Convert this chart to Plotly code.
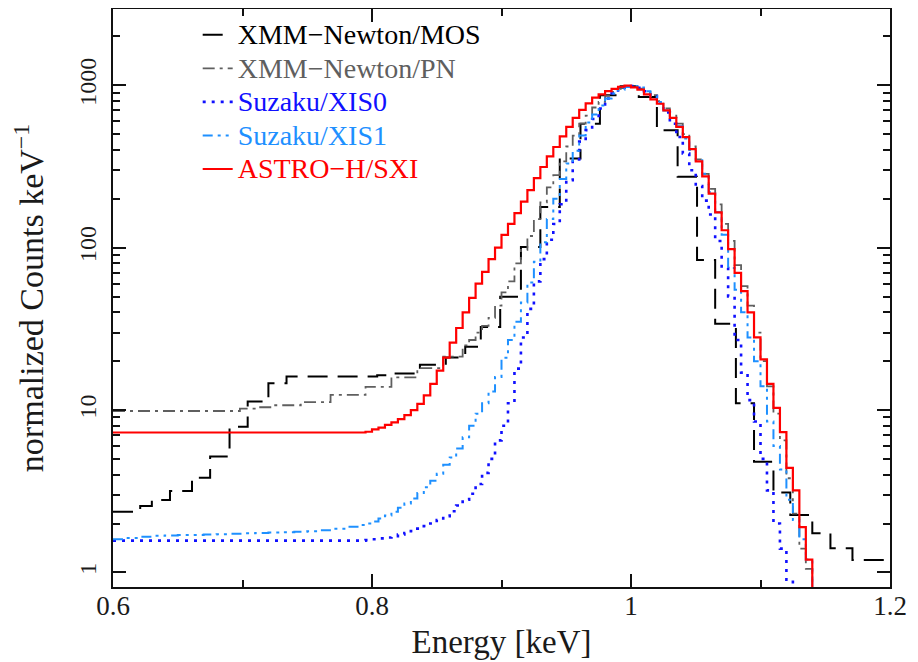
import plotly.graph_objects as go

# ---------------- data ----------------
# Shared fine bin grid (left edges, keV) used from 0.795 keV upward
E_FINE = [0.795, 0.800, 0.805, 0.810, 0.815, 0.820, 0.825, 0.830, 0.835, 0.840,
          0.845, 0.850, 0.855, 0.860, 0.865, 0.870, 0.875, 0.880, 0.885, 0.890,
          0.895, 0.900, 0.905, 0.910, 0.915, 0.920, 0.925, 0.930, 0.935, 0.940,
          0.945, 0.950, 0.955, 0.960, 0.965, 0.970, 0.975, 0.980, 0.985, 0.990,
          0.995, 1.000, 1.005, 1.010, 1.015, 1.020, 1.025, 1.030, 1.035, 1.040,
          1.045, 1.050, 1.055, 1.060, 1.065, 1.070, 1.075, 1.080, 1.085, 1.090,
          1.095, 1.100, 1.105, 1.110, 1.115, 1.120, 1.125, 1.130, 1.135, 1.140]
E_FINE_END = 1.145

# XMM-Newton/MOS : variable-width bins (edges) and counts
mos_edges = [0.600, 0.621, 0.630, 0.644, 0.661, 0.675, 0.690, 0.704, 0.720, 0.734,
             0.804, 0.816, 0.837, 0.857, 0.872, 0.884, 0.899, 0.915, 0.930, 0.945,
             0.961, 0.976, 0.992, 1.006, 1.020, 1.036, 1.051, 1.065, 1.081, 1.095,
             1.110, 1.123, 1.140, 1.154, 1.171, 1.200]
mos_counts = [2.36, 2.56, 2.79, 3.17, 3.83, 5.17, 7.88, 11.3, 14.6, 16.1,
              16.4, 16.8, 19.0, 21.1, 24.5, 32.5, 49.8, 101, 178, 354,
              580, 867, 985, 848, 528, 273, 84, 34, 11, 4.8,
              3.1, 2.26, 1.74, 1.41, 1.19]

# XMM-Newton/PN : coarse low-energy bins, then the fine grid
pn_low_edges = [0.600, 0.698, 0.711, 0.724, 0.745, 0.768]
pn_low_counts = [9.86, 10.2, 10.4, 10.7, 11.2, 12.4]
pn_counts = [13.9, 13.9, 13.9, 13.9, 15.9, 15.9, 15.9, 15.9, 18.1, 18.1,
             18.1, 18.1, 21.3, 21.3, 21.3, 25, 27, 30, 33, 37,
             44, 53, 62, 80, 97, 118, 150, 190, 235, 280,
             340, 420, 490, 580, 650, 730, 790, 860, 910, 960,
             990, 985, 955, 910, 870, 800, 720, 650, 580, 500,
             420, 350, 285, 230, 185, 140, 110, 78, 58, 44,
             30, 20, 14, 9.5, 6.5, 3.8, 2.3, 1.4, 1.05, 0.7]

# Suzaku/XIS0 : flat low-energy level, then the fine grid
xis0_low_edges = [0.600]
xis0_low_counts = [1.57]
xis0_counts = [1.58, 1.60, 1.62, 1.64, 1.67, 1.71, 1.75, 1.80, 1.86, 1.93,
               2.00, 2.10, 2.22, 2.38, 2.58, 2.80, 3.05, 3.5, 4.1, 5.0,
               6.5, 8.0, 11, 18, 28, 42, 62, 85, 112, 140,
               185, 260, 350, 450, 530, 620, 720, 830, 890, 940,
               975, 990, 965, 920, 860, 780, 680, 580, 480, 380,
               300, 240, 195, 160, 110, 75, 50, 27, 17, 11.5,
               8.5, 5.0, 3.2, 2.0, 1.4, 0.9, 0.7, 0.6, 0.5, 0.5]

# Suzaku/XIS1 : 0.01 keV bins at low energy, then the fine grid
xis1_low_edges = [0.60, 0.61, 0.62, 0.63, 0.64, 0.65, 0.66, 0.67, 0.68, 0.69,
                  0.70, 0.71, 0.72, 0.73, 0.74, 0.75, 0.76, 0.77, 0.78, 0.79]
xis1_low_counts = [1.60, 1.63, 1.66, 1.68, 1.69, 1.70, 1.70, 1.71, 1.72, 1.73,
                   1.74, 1.75, 1.76, 1.77, 1.78, 1.79, 1.82, 1.86, 1.91, 1.96]
xis1_counts = [2.0, 2.06, 2.15, 2.24, 2.36, 2.50, 2.66, 2.85, 3.08, 3.35,
               3.67, 4.05, 4.6, 5.1, 5.8, 6.8, 8.0, 9.5, 11, 13,
               16, 21, 27, 35, 46, 61, 82, 108, 150, 200,
               265, 330, 395, 490, 590, 660, 750, 830, 890, 940,
               975, 990, 970, 920, 860, 790, 700, 630, 560, 470,
               400, 345, 285, 220, 165, 120, 75, 55, 40, 28,
               20, 14, 8.5, 6.0, 4.3, 2.8, 2.1, 1.6, 1.2, 0.7]

# ASTRO-H/SXI : flat low-energy level, then the fine grid
sxi_low_edges = [0.600]
sxi_low_counts = [7.27]
sxi_counts = [7.35, 7.6, 7.8, 8.1, 8.4, 8.8, 9.3, 10.0, 10.9, 12.3,
              14.5, 17.5, 21, 26, 32, 40, 49, 60, 71, 85,
              100, 120, 140, 163, 192, 226, 268, 314, 365, 417,
              485, 554, 630, 705, 775, 840, 880, 920, 950, 980,
              995, 970, 940, 880, 820, 770, 700, 630, 555, 480,
              405, 340, 275, 215, 165, 128, 98, 70, 54, 40,
              28, 20.5, 14.5, 10.3, 7.3, 4.4, 3.2, 1.9, 1.2, 0.8]

names = ["XMM\u2212Newton/MOS", "XMM\u2212Newton/PN", "Suzaku/XIS0",
         "Suzaku/XIS1", "ASTRO\u2212H/SXI"]

# ---------------- helpers ----------------
def step_xy(edges_left, counts, right_edge):
    x = list(edges_left) + [right_edge]
    y = list(counts) + [counts[-1]]
    return x, y

FONT = "Liberation Serif, Times New Roman, serif"

series = [
    (mos_edges[:-1], mos_counts, mos_edges[-1], "#000000", "20px,10px", 2.0),
    (pn_low_edges + E_FINE, pn_low_counts + pn_counts, E_FINE_END, "#5f5f5f",
     "12px,5px,3px,5px", 1.8),
    (xis0_low_edges + E_FINE, xis0_low_counts + xis0_counts, E_FINE_END, "#1010ff",
     "3px,6px", 2.6),
    (xis1_low_edges + E_FINE, xis1_low_counts + xis1_counts, E_FINE_END, "#1e90ff",
     "10px,5px,3px,5px,3px,5px", 2.0),
    (sxi_low_edges + E_FINE, sxi_low_counts + sxi_counts, E_FINE_END, "#ff0000",
     "solid", 2.2),
]

fig = go.Figure()
for (edges, counts, right, color, dash, width), name in zip(series, names):
    x, y = step_xy(edges, counts, right)
    fig.add_trace(go.Scatter(
        x=x, y=y, mode="lines", line_shape="hv",
        line=dict(color=color, dash=dash, width=width),
        name=f"<span style='color:{color};font-size:28px'>{name}</span>",
    ))

minor_y = [v * m for m in (1, 10, 100, 1000) for v in range(2, 10)]

# the page body adds an 8px margin, so the figure is 8px smaller than the window
fig.update_layout(
    width=910, height=654,
    margin=dict(l=105, r=28, t=1, b=75, autoexpand=False),
    paper_bgcolor="white", plot_bgcolor="white",
    font=dict(family=FONT, size=26, color="#1a1a1a"),
    showlegend=True,
    legend=dict(x=0.109, y=0.993, xanchor="left", yanchor="top",
                bgcolor="rgba(0,0,0,0)", borderwidth=0,
                font=dict(family=FONT, size=23.5)),
    xaxis=dict(
        range=[0.6, 1.2], tickvals=[0.6, 0.8, 1.0, 1.2],
        ticktext=["0.6", "0.8", "1", "1.2"],
        ticks="inside", ticklen=13, tickwidth=1.5, tickcolor="#111",
        minor=dict(tickvals=[0.7, 0.9, 1.1], ticks="inside", ticklen=7,
                   tickwidth=1.5, tickcolor="#111", showgrid=False),
        showline=True, linewidth=2, linecolor="#111", mirror="ticks",
        showgrid=False, zeroline=False, automargin=False,
        tickfont=dict(size=27), ticklabelstandoff=-6,
        title=dict(text="Energy [keV]", font=dict(size=33), standoff=9),
    ),
    yaxis=dict(
        type="log", range=[-0.09, 3.47],
        tickvals=[1, 10, 100, 1000], ticktext=["1", "10", "100", "1000"],
        tickangle=-90, ticklabelstandoff=5,
        ticks="inside", ticklen=13, tickwidth=1.5, tickcolor="#111",
        minor=dict(tickvals=minor_y, ticks="inside", ticklen=7,
                   tickwidth=1.5, tickcolor="#111", showgrid=False),
        showline=True, linewidth=2, linecolor="#111", mirror="ticks",
        showgrid=False, zeroline=False, automargin=False,
        tickfont=dict(size=24),
        title=dict(text="normalized Counts keV<sup>\u22121</sup>",
                   font=dict(size=34), standoff=27),
    ),
)

fig.write_html("out.html")
